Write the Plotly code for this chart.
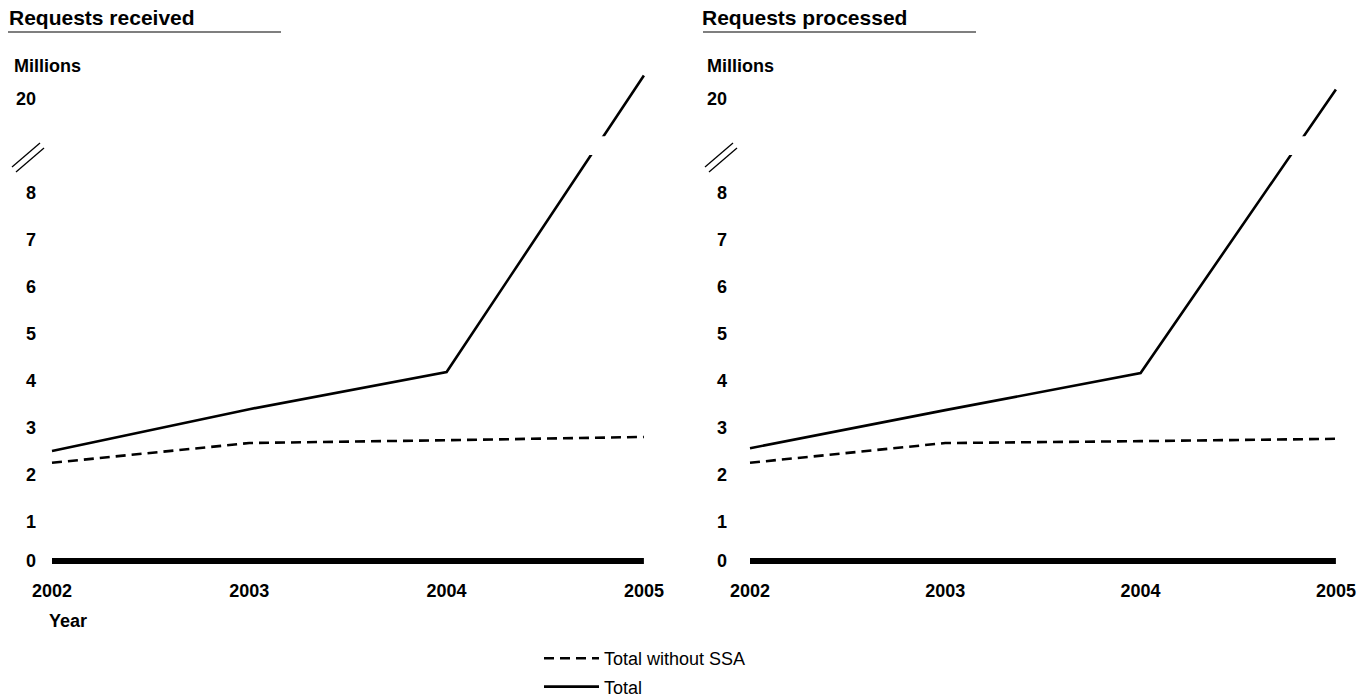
import plotly.graph_objects as go

# ---------------- data ----------------
years = [2002, 2003, 2004, 2005]
x_tick_labels = ["2002", "2003", "2004", "2005"]

received_total = [2.51, 3.40, 4.19, 20.5]
received_without_ssa = [2.26, 2.68, 2.74, 2.81]

processed_total = [2.57, 3.38, 4.17, 20.2]
processed_without_ssa = [2.26, 2.68, 2.72, 2.77]

panel_titles = ["Requests received", "Requests processed"]
series_names = ["Total without SSA", "Total"]
y_tick_values = [0, 1, 2, 3, 4, 5, 6, 7, 8, 20]
y_tick_labels = ["0", "1", "2", "3", "4", "5", "6", "7", "8", "20"]
y_unit_label = "Millions"
x_axis_label = "Year"

# ---------------- layout constants ----------------
FW, FH = 1363, 699
FONT = "Liberation Sans, Arial, Helvetica, sans-serif"
BREAK_LOW = 8        # axis is broken above this value
BREAK_SKIP = 10      # values above the break are drawn shifted down by this
ZERO_NUDGE = 0.17    # the baseline/"0" label sits slightly above zero
GAP_LOW, GAP_HIGH = 8.81, 9.21   # white band that interrupts the line at the break

Y0_PX, PX_PER_UNIT = 569, 47
Y_TOP_PX, Y_BOT_PX = 40, 578


def disp(v):
    return v if v <= BREAK_LOW else v - BREAK_SKIP


def px_x(p):
    return p / FW


def px_y(p):
    return 1 - p / FH


panels = [
    dict(total=received_total, without=received_without_ssa, dom=(40, 662), x0=52, ppy=197.3,
         title_x=10, line=(8, 281), brk=12),
    dict(total=processed_total, without=processed_without_ssa, dom=(731, 1355), x0=750, ppy=195.3,
         title_x=703, line=(703, 976), brk=705),
]

fig = go.Figure()
shapes = []
annotations = []

y_range = [(Y0_PX - Y_BOT_PX) / PX_PER_UNIT, (Y0_PX - Y_TOP_PX) / PX_PER_UNIT]
tickvals = [disp(v) + (ZERO_NUDGE if v == 0 else 0) for v in y_tick_values]

for i, p in enumerate(panels):
    sfx = "" if i == 0 else str(i + 1)
    xa, ya = "x" + sfx, "y" + sfx
    fig.add_trace(go.Scatter(
        x=years, y=[disp(v) for v in p["without"]], mode="lines",
        name=series_names[0], legendgroup="a", showlegend=(i == 0),
        line=dict(color="black", width=2.6, dash="10px,6px"),
        xaxis=xa, yaxis=ya, hoverinfo="skip"))
    fig.add_trace(go.Scatter(
        x=years, y=[disp(v) for v in p["total"]], mode="lines",
        name=series_names[1], legendgroup="b", showlegend=(i == 0),
        line=dict(color="black", width=2.6),
        xaxis=xa, yaxis=ya, hoverinfo="skip"))

    d0, d1 = p["dom"]
    xr = [years[0] - (p["x0"] - d0) / p["ppy"], years[0] + (d1 - p["x0"]) / p["ppy"]]
    axis_font = dict(family=FONT, size=18, color="black", weight="bold")
    fig.update_layout(**{
        "xaxis" + sfx: dict(domain=[px_x(d0), px_x(d1)], range=xr, anchor=ya,
                            tickvals=years, ticktext=x_tick_labels, showgrid=False,
                            zeroline=False, showline=False, ticks="", tickfont=axis_font,
                            automargin=False, fixedrange=True),
        "yaxis" + sfx: dict(domain=[px_y(Y_BOT_PX), px_y(Y_TOP_PX)], range=y_range, anchor=xa,
                            tickvals=tickvals, ticktext=y_tick_labels, showgrid=False,
                            zeroline=False, showline=False, ticks="", tickfont=axis_font,
                            ticklabelstandoff=3, automargin=False, fixedrange=True),
    })

    # thick baseline
    shapes.append(dict(type="line", xref=xa, yref=ya, x0=years[0], x1=years[-1],
                       y0=ZERO_NUDGE, y1=ZERO_NUDGE, line=dict(color="black", width=6)))
    # white gap where the axis break crosses the line
    shapes.append(dict(type="rect", xref=xa + " domain", yref=ya, x0=0, x1=1,
                       y0=GAP_LOW, y1=GAP_HIGH, fillcolor="white",
                       line=dict(width=0), layer="above"))
    # break marks "//"
    b = p["brk"]
    for dx, dy in [(0, 0), (4, 5)]:
        shapes.append(dict(type="line", xref="paper", yref="paper",
                           x0=px_x(b + dx), y0=px_y(167 + dy),
                           x1=px_x(b + 28 + dx), y1=px_y(143 + dy),
                           line=dict(color="black", width=1.3)))
    # title + underline
    annotations.append(dict(text="<b>" + panel_titles[i] + "</b>", xref="paper", yref="paper",
                            x=px_x(p["title_x"] - 3), y=px_y(18), xanchor="left", yanchor="middle",
                            showarrow=False, font=dict(family=FONT, size=21, color="black")))
    l0, l1 = p["line"]
    shapes.append(dict(type="line", xref="paper", yref="paper", x0=px_x(l0), x1=px_x(l1),
                       y0=px_y(32), y1=px_y(32), line=dict(color="#555555", width=1.6)))
    annotations.append(dict(text="<b>" + y_unit_label + "</b>", xref="paper", yref="paper",
                            x=px_x(p["title_x"] + 2), y=px_y(66), xanchor="left", yanchor="middle",
                            showarrow=False, font=dict(family=FONT, size=18, color="black")))

annotations.append(dict(text="<b>" + x_axis_label + "</b>", xref="paper", yref="paper",
                        x=px_x(47), y=px_y(621), xanchor="left", yanchor="middle",
                        showarrow=False, font=dict(family=FONT, size=18, color="black")))

fig.update_layout(
    width=FW, height=FH, margin=dict(l=0, r=0, t=0, b=0, autoexpand=False),
    paper_bgcolor="white", plot_bgcolor="white",
    shapes=shapes, annotations=annotations,
    showlegend=True,
    legend=dict(x=px_x(539), y=px_y(640), xanchor="left", yanchor="top",
                traceorder="grouped", tracegroupgap=2, itemwidth=55,
                font=dict(family=FONT, size=18, color="black"),
                bgcolor="rgba(0,0,0,0)"),
    font=dict(family=FONT, color="black"),
)

fig.write_html("out.html", config={"displayModeBar": False},
               post_script="document.body.style.margin='0';document.body.style.overflow='hidden';")
